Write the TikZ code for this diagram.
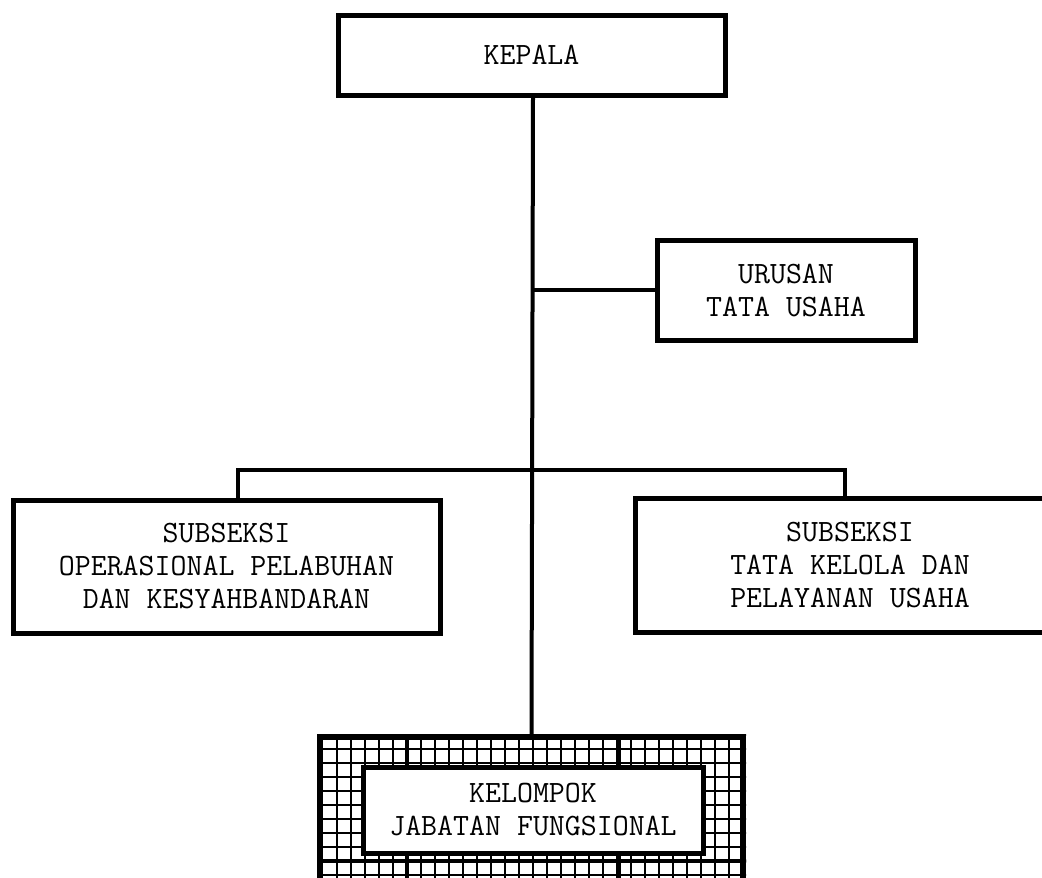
\documentclass[tikz,border=0pt]{standalone}
\usepackage{fontspec}

\begin{document}
\begin{tikzpicture}
    [ x=1pt, y=-1pt,
      font={\ttfamily\fontsize{31}{33}\selectfont},
      unit/.style={draw, line width=5pt, fill=white, align=center,
                   inner sep=0pt},
      link/.style={line width=4pt},
      gridline/.style={line width=1.4pt},
      gridbold/.style={line width=4pt}
    ]
    \useasboundingbox (0, 0) rectangle (1042, 878);

    % Units
    \node[unit, minimum width=387, minimum height=80] (kepala)
        at (531.5, 55) {KEPALA};
    \node[unit, minimum width=258, minimum height=100] (tu)
        at (786, 290) {URUSAN\\TATA USAHA};
    \node[unit, minimum width=427, minimum height=133] (opl)
        at (226.5, 566.5) {SUBSEKSI\\OPERASIONAL PELABUHAN\\DAN KESYAHBANDARAN};
    \node[unit, minimum width=430, minimum height=134] (tkp)
        at (850, 565) {SUBSEKSI\\TATA KELOLA DAN\\PELAYANAN USAHA};

    % Functional group (hatched frame)
    \node[draw, line width=6pt, minimum width=423, minimum height=170]
        (jfbox) at (531.5, 822) {};
    \begin{scope}
        \clip (jfbox.north west) rectangle (jfbox.south east);
        \foreach \k in {0, ..., 29} {
            \draw[gridline] (337 + 14 * \k, 730) -- ++(0, 180);
        }
        \foreach \k in {-1, ..., 12} {
            \draw[gridline] (310, 749 + 14 * \k) -- ++(440, 0);
        }
        \draw[gridbold] (407, 730) -- ++(0, 180);
        \draw[gridbold] (619, 730) -- ++(0, 180);
        \draw[gridbold] (310, 861) -- ++(440, 0);
    \end{scope}
    \node[unit, minimum width=340, minimum height=86] (jf)
        at (533, 810) {KELOMPOK\\JABATAN FUNGSIONAL};

    % Connectors
    \coordinate (busL) at (238, 470);
    \coordinate (busR) at (845, 470);
    \draw[link] (kepala.south -| jf.north) -- (jfbox.north);
    \draw[link] (jf.north |- tu.west) -- (tu.west);
    \draw[link] (busL |- opl.north) -- (busL) -- (busR) -- (busR |- tkp.north);

\end{tikzpicture}
\end{document}
